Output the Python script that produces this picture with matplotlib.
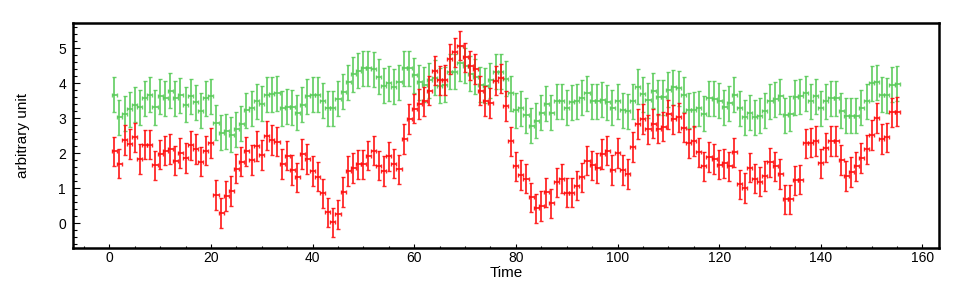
import numpy as np
import matplotlib.pyplot as plt
from matplotlib.ticker import MultipleLocator

plt.rcParams['font.family'] = ['Liberation Sans', 'DejaVu Sans']

# time bins 1..155
time = np.arange(1, 156)

green = [3.67, 3.02, 3.13, 3.26, 3.38, 3.31, 3.57, 3.67, 3.31, 3.62,
         3.57, 3.78, 3.57, 3.65, 3.38, 3.62, 3.46, 3.21, 3.57, 3.62,
         2.87, 2.58, 2.63, 2.53, 2.69, 2.84, 3.22, 3.29, 3.49, 3.41,
         3.67, 3.69, 3.71, 3.29, 3.33, 3.31, 3.16, 3.38, 3.62, 3.67,
         3.67, 3.50, 3.29, 3.28, 3.56, 3.75, 4.02, 4.26, 4.36, 4.43,
         4.43, 4.40, 4.19, 3.93, 4.00, 3.90, 4.03, 4.43, 4.43, 4.22,
         4.02, 3.95, 4.08, 4.16, 3.93, 3.95, 4.33, 4.33, 4.57, 4.50,
         4.27, 4.19, 3.95, 3.92, 4.08, 4.33, 4.33, 4.13, 3.71, 3.23,
         3.28, 3.08, 2.79, 2.93, 3.15, 3.41, 3.15, 3.49, 3.49, 3.30,
         3.45, 3.49, 3.59, 3.71, 3.49, 3.49, 3.52, 3.46, 3.30, 3.49,
         3.23, 3.20, 3.49, 3.90, 3.69, 3.51, 3.78, 3.60, 3.60, 3.81,
         3.89, 3.86, 3.67, 3.22, 3.24, 3.28, 3.12, 3.57, 3.55, 3.50,
         3.31, 3.42, 3.67, 3.29, 3.03, 3.16, 3.03, 3.07, 3.21, 3.49,
         3.54, 3.62, 3.09, 3.12, 3.60, 3.62, 3.71, 3.49, 3.62, 3.29,
         3.49, 3.57, 3.57, 3.21, 3.07, 3.07, 3.07, 3.30, 3.49, 4.00,
         4.03, 3.67, 3.65, 3.95, 3.99]

red = [2.05, 1.70, 2.38, 2.26, 2.45, 1.83, 2.24, 2.24, 1.65, 1.97,
       2.07, 2.12, 1.79, 2.01, 1.86, 2.22, 2.12, 1.76, 2.07, 2.29,
       0.81, 0.29, 0.78, 0.92, 1.56, 1.76, 2.05, 1.81, 2.21, 1.95,
       2.50, 2.38, 2.33, 1.69, 1.93, 1.52, 1.31, 1.98, 1.83, 1.49,
       1.33, 0.85, 0.31, 0.02, 0.25, 0.89, 1.49, 1.58, 1.68, 1.68,
       1.93, 2.07, 1.64, 1.49, 1.91, 1.70, 1.54, 2.41, 2.98, 3.27,
       3.41, 3.48, 3.79, 4.36, 4.08, 4.09, 4.69, 4.88, 5.07, 4.74,
       4.50, 4.40, 3.79, 3.49, 3.43, 4.07, 4.14, 3.35, 2.34, 1.62,
       1.38, 1.27, 0.74, 0.42, 0.49, 0.88, 0.57, 1.17, 1.27, 0.87,
       0.87, 1.07, 1.31, 1.79, 1.65, 1.58, 1.98, 2.07, 1.52, 2.01,
       1.52, 1.40, 2.18, 2.83, 2.98, 2.68, 2.84, 2.70, 2.76, 3.11,
       2.97, 3.02, 2.73, 2.28, 2.35, 2.02, 1.62, 1.89, 1.83, 1.67,
       1.71, 1.62, 2.02, 1.11, 1.00, 1.59, 1.27, 1.19, 1.35, 1.74,
       1.62, 1.40, 0.68, 0.68, 1.22, 1.24, 2.28, 2.30, 2.35, 1.71,
       2.16, 2.35, 2.35, 1.81, 1.35, 1.46, 1.62, 1.86, 2.11, 2.52,
       3.00, 2.40, 2.45, 3.17, 3.19]

green_err = 0.5
red_err = 0.42
bin_half = 0.5

fig = plt.figure(figsize=(9.54, 2.81), dpi=100)
ax = fig.add_axes([0.0765, 0.1174, 0.9075, 0.7996])

ax.errorbar(time, green, xerr=bin_half, yerr=green_err, fmt='none',
            ecolor='#5ccc5c', elinewidth=1.3, capsize=1.6, capthick=1.0, alpha=0.9)
ax.errorbar(time, red, xerr=bin_half, yerr=red_err, fmt='none',
            ecolor='#ff1010', elinewidth=1.3, capsize=1.6, capthick=1.0, alpha=0.9)

ax.set_xlim(-7.14, 163.2)
ax.set_ylim(-0.71, 5.71)

ax.xaxis.set_major_locator(MultipleLocator(20))
ax.xaxis.set_minor_locator(MultipleLocator(5))
ax.yaxis.set_major_locator(MultipleLocator(1))
ax.yaxis.set_minor_locator(MultipleLocator(0.2))

ax.tick_params(axis='y', which='major', direction='in', length=5.2, width=0.8, labelsize=10, pad=5)
ax.tick_params(axis='y', which='minor', direction='in', length=2.6, width=0.8)
ax.tick_params(axis='x', which='major', direction='in', length=3, width=0.8, labelsize=10, pad=2)
ax.tick_params(axis='x', which='minor', direction='in', length=1.5, width=0.8)

for s in ax.spines.values():
    s.set_linewidth(1.8)

ax.set_xlabel('Time', fontsize=11)
ax.xaxis.set_label_coords(0.5, -0.08)
ax.set_ylabel('arbitrary unit', fontsize=11)
ax.yaxis.set_label_coords(-0.05, 0.5)

fig.savefig('out.png', dpi=100)
